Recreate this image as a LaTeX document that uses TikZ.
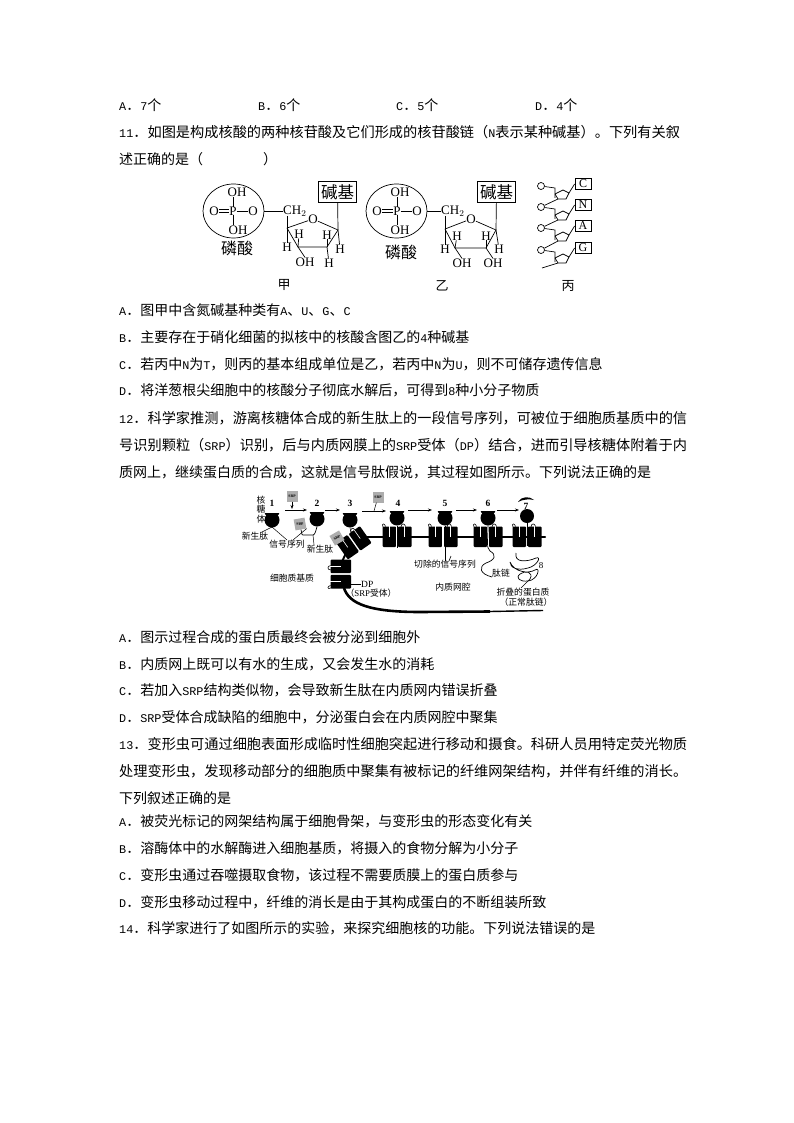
\documentclass[tikz,border=0pt]{standalone}
\usepackage{fontspec}
\usetikzlibrary{arrows.meta,shapes.geometric}
\setmainfont{Liberation Serif}
\newfontfamily\cjk{Noto Sans CJK SC}
\newfontfamily\ltmono{Liberation Mono}
\newcommand{\lt}[1]{{\ltmono\fontsize{11.8}{11.8}\selectfont #1}}
\tikzset{
 line/.style={inner sep=0pt,anchor=base west,font=\cjk\fontsize{14.2}{14.2}\selectfont},
 sline/.style={inner sep=0pt,anchor=base west,font=\cjk\fontsize{14}{14}\selectfont},
 lab/.style={inner sep=0pt,font=\fontsize{13}{13}\selectfont},
 clab/.style={inner sep=0pt,font=\cjk\fontsize{13}{13}\selectfont},
 plab/.style={inner sep=0pt,font=\cjk\fontsize{16}{16}\selectfont},
 slab/.style={inner sep=0pt,font=\cjk\fontsize{8.8}{8.8}\selectfont},
 dplab/.style={inner sep=0pt,font=\fontsize{9.5}{9.5}\selectfont},
 num/.style={inner sep=0pt,font=\bfseries\fontsize{9.5}{9.5}\selectfont},
 bond/.style={draw,line width=.7pt},
 box/.style={draw,line width=.8pt,inner sep=2.5pt,font=\cjk\fontsize{16.5}{16.5}\selectfont},
 sbox/.style={draw,line width=.8pt,minimum width=16pt,minimum height=10.5pt,inner sep=0pt,font=\fontsize{12}{12}\selectfont},
 srp/.style={fill=black!32,minimum width=11pt,minimum height=11pt,inner sep=0pt,font=\bfseries\fontsize{3.8}{3.8}\selectfont},
 flow/.style={draw,line width=.7pt,-{Stealth[length=4pt,width=3pt]}},
 circ/.style={draw,ellipse,line width=.7pt,inner sep=0pt},
 thin/.style={draw,line width=.5pt},
}
\newcommand{\ribo}[3]{% name, x, y
 \node[circle,fill=black,minimum size=15pt,inner sep=0pt] (#1) at (#2,#3) {};
 \fill[black] (#2-7.5,#3-8) arc (180:0:7.5 and 5.5) -- cycle;
 \draw[white,line width=.7pt] (#2-8,#3-7.6) -- (#2+8,#3-7.6);
}
\newcommand{\tmgroup}[3]{% x, y, rotation
 \begin{scope}[shift={(#1,#2)},rotate=#3]
  \fill[black,rounded corners=1pt] (-14.5,-10.5) rectangle (-0.8,10);
  \fill[black,rounded corners=1pt] (0.8,-10.5) rectangle (14.5,10);
  \draw[white,line width=.6pt] (-7.6,-11) -- (-7.6,0);
  \draw[white,line width=.6pt] (7.6,-11) -- (7.6,0);
  \draw[black,line width=.6pt] (-14,-10) .. controls (-16,-14) and (-12,-14) .. (-11.5,-10.5);
  \draw[black,line width=.6pt] (4,-10) .. controls (4,-14) and (8,-14) .. (8.5,-10.5);
 \end{scope}
}
\newcommand{\nuc}[3]{% name, y, base
 \node[circle,draw,line width=.7pt,minimum size=7pt,inner sep=0pt] (o#1) at (541,#2) {};
 \coordinate (a#1) at (555,#2+2);
 \coordinate (l#1) at (555,#2+8);
 \coordinate (t#1) at (563,#2+4);
 \coordinate (r#1) at (569,#2+7);
 \coordinate (m#1) at (566,#2+13);
 \coordinate (k#1) at (558,#2+13);
 \coordinate (z#1) at (555,#2+12);
 \draw[bond] (o#1) -- (a#1) -- (z#1);
 \draw[bond] (l#1) -- (t#1) -- (r#1) -- (m#1) -- (k#1) -- (l#1);
 \node[sbox] (s#1) at (583,#2-2) {#3};
 \draw[bond] (r#1) -- (s#1.west);
}
\begin{document}
\begin{tikzpicture}[x=1pt,y=-1pt]
\useasboundingbox (0,0) rectangle (794,1123);
\fill[white] (0,0) rectangle (794,1123);
% text
\node[sline] (t0a) at (119,111) {\lt{A}．\lt{7}个};
\node[sline] (t0b) at (258,111) {\lt{B}．\lt{6}个};
\node[sline] (t0c) at (396,111) {\lt{C}．\lt{5}个};
\node[sline] (t0d) at (535,111) {\lt{D}．\lt{4}个};
\node[line] (t1) at (119,138) {\lt{11}．如图是构成核酸的两种核苷酸及它们形成的核苷酸链（\lt{N}表示某种碱基）。下列有关叙};
\node[sline] (t2) at (119,165) {述正确的是（\hspace{60pt}）};
\node[sline] (t3) at (119,315) {\lt{A}．图甲中含氮碱基种类有\lt{A}、\lt{U}、\lt{G}、\lt{C}};
\node[sline] (t4) at (119,342) {\lt{B}．主要存在于硝化细菌的拟核中的核酸含图乙的\lt{4}种碱基};
\node[sline] (t5) at (119,369) {\lt{C}．若丙中\lt{N}为\lt{T}，则丙的基本组成单位是乙，若丙中\lt{N}为\lt{U}，则不可储存遗传信息};
\node[sline] (t6) at (119,395) {\lt{D}．将洋葱根尖细胞中的核酸分子彻底水解后，可得到\lt{8}种小分子物质};
\node[line] (t7) at (119,423) {\lt{12}．科学家推测，游离核糖体合成的新生肽上的一段信号序列，可被位于细胞质基质中的信};
\node[line] (t8) at (119,450) {号识别颗粒（\lt{SRP}）识别，后与内质网膜上的\lt{SRP}受体（\lt{DP}）结合，进而引导核糖体附着于内};
\node[sline] (t9) at (119,477) {质网上，继续蛋白质的合成，这就是信号肽假说，其过程如图所示。下列说法正确的是};
\node[sline] (t10) at (119,642) {\lt{A}．图示过程合成的蛋白质最终会被分泌到细胞外};
\node[sline] (t11) at (119,669) {\lt{B}．内质网上既可以有水的生成，又会发生水的消耗};
\node[sline] (t12) at (119,695) {\lt{C}．若加入\lt{SRP}结构类似物，会导致新生肽在内质网内错误折叠};
\node[sline] (t13) at (119,722) {\lt{D}．\lt{SRP}受体合成缺陷的细胞中，分泌蛋白会在内质网腔中聚集};
\node[line] (t14) at (119,749) {\lt{13}．变形虫可通过细胞表面形成临时性细胞突起进行移动和摄食。科研人员用特定荧光物质};
\node[line] (t15) at (119,776) {处理变形虫，发现移动部分的细胞质中聚集有被标记的纤维网架结构，并伴有纤维的消长。};
\node[sline] (t16) at (119,803) {下列叙述正确的是};
\node[sline] (t17) at (119,826) {\lt{A}．被荧光标记的网架结构属于细胞骨架，与变形虫的形态变化有关};
\node[sline] (t18) at (119,853) {\lt{B}．溶酶体中的水解酶进入细胞基质，将摄入的食物分解为小分子};
\node[sline] (t19) at (119,880) {\lt{C}．变形虫通过吞噬摄取食物，该过程不需要质膜上的蛋白质参与};
\node[sline] (t20) at (119,907) {\lt{D}．变形虫移动过程中，纤维的消长是由于其构成蛋白的不断组装所致};
\node[sline] (t21) at (119,933) {\lt{14}．科学家进行了如图所示的实验，来探究细胞核的功能。下列说法错误的是};
% figure 11 jia
\node[circ,minimum width=61pt,minimum height=54pt] (e1) at (233.5,211) {};
\node[lab] (oh1) at (237,192) {OH};
\node[lab] (o1) at (214,211) {O};
\node[lab] (p1) at (233,211) {P};
\node[lab] (o2) at (253,211) {O};
\node[lab] (oh2) at (238,230) {OH};
\draw[bond] (p1.north) -- (233,197);
\draw[bond] (p1.south) -- (233,225);
\draw[bond] (p1) -- (o2);
\draw[bond] ([yshift=-1.3pt]o1.east) -- ([yshift=-1.3pt]p1.west);
\draw[bond] ([yshift=1.3pt]o1.east) -- ([yshift=1.3pt]p1.west);
\node[plab] (ps1) at (237,248) {磷酸};
\node[lab,anchor=west] (ch1) at (283,211) {CH$_2$};
\draw[bond] (e1.east) -- (ch1.west);
\node[lab] (ro1) at (313,219) {O};
\coordinate (r1a) at (287,228); \coordinate (r1b) at (298,247); \coordinate (r1c) at (327,247); \coordinate (r1d) at (338,230);
\draw[bond] (r1a) -- (r1b) -- (r1c) -- (r1d) -- (ro1) -- (r1a);
\draw[bond] (287,216) -- (r1a);
\node[box] (bs1) at (337.5,192) {碱基};
\draw[bond] (bs1) -- (r1d);
\node[lab] (h1) at (287,247) {H}; \node[lab] (h2) at (299,234) {H};
\node[lab] (h3) at (327,235) {H}; \node[lab] (h4) at (340,249) {H};
\node[lab] (oh3) at (305,262) {OH}; \node[lab] (h5) at (329,263) {H};
\draw[bond] (r1a)--(h1); \draw[bond] (r1b)--(h2); \draw[bond] (r1b)--(oh3.north); \draw[bond] (r1c)--(h3); \draw[bond] (r1c)--(h5); \draw[bond] (r1d)--(h4);
\node[clab] (ja) at (284,285) {甲};
% yi
\node[circ,minimum width=61pt,minimum height=54pt] (e2) at (396.5,211) {};
\node[lab] (yh1) at (400,192) {OH};
\node[lab] (yo1) at (377,211) {O};
\node[lab] (yp) at (397,211) {P};
\node[lab] (yo2) at (417,211) {O};
\node[lab] (yh2) at (400,230) {OH};
\draw[bond] (yp.north) -- (397,197);
\draw[bond] (yp.south) -- (397,225);
\draw[bond] (yp) -- (yo2);
\draw[bond] ([yshift=-1.3pt]yo1.east) -- ([yshift=-1.3pt]yp.west);
\draw[bond] ([yshift=1.3pt]yo1.east) -- ([yshift=1.3pt]yp.west);
\node[plab] (ps2) at (401,252) {磷酸};
\node[lab,anchor=west] (ch2) at (441,211) {CH$_2$};
\draw[bond] (e2.east) -- (ch2.west);
\node[lab] (ro2) at (471,219) {O};
\coordinate (r2a) at (445,229); \coordinate (r2b) at (455,248); \coordinate (r2c) at (486,248); \coordinate (r2d) at (496,230);
\draw[bond] (r2a) -- (r2b) -- (r2c) -- (r2d) -- (ro2) -- (r2a);
\draw[bond] (445,216) -- (r2a);
\node[box] (bs2) at (496.5,192) {碱基};
\draw[bond] (bs2) -- (r2d);
\node[lab] (g1) at (445,249) {H}; \node[lab] (g2) at (457,236) {H};
\node[lab] (g3) at (486,236) {H}; \node[lab] (g4) at (499,249) {H};
\node[lab] (oh4) at (462,263) {OH}; \node[lab] (oh5) at (493,263) {OH};
\draw[bond] (r2a)--(g1); \draw[bond] (r2b)--(g2); \draw[bond] (r2b)--(oh4.north); \draw[bond] (r2c)--(g3); \draw[bond] (r2c)--(oh5.north); \draw[bond] (r2d)--(g4);
\node[clab] (yi) at (442,286) {乙};
% bing
\nuc{c}{186}{C}
\nuc{n}{207}{N}
\nuc{a}{228}{A}
\nuc{g}{250}{G}
\coordinate (chainend) at (542,268);
\draw[bond] (kc) -- (on);
\draw[bond] (kn) -- (oa);
\draw[bond] (ka) -- (og);
\draw[bond] (kg) -- (chainend);
\node[clab] (bi) at (568,286) {丙};
% figure 12: membranes
\draw[line width=2pt,line cap=round] (358,537) -- (545,537);
\draw[line width=2pt] (346,553) -- (341,564);
\draw[line width=2.6pt] (344,588) .. controls (349,604) and (370,612) .. (420,612) -- (490,611.5);
\draw[line width=1.4pt] (490,611.5) -- (543,610.5);
% ribosomes
\ribo{r1}{272}{520}
\ribo{r2}{317}{519}
\ribo{r3}{350}{520}
\ribo{r4}{397}{518}
\ribo{r5}{445}{518}
\ribo{r6}{488}{518}
\node[circle,fill=black,minimum size=14pt,inner sep=0pt] (r7) at (527,516) {};
\fill[black] (518,502) .. controls (521,496) and (530,496) .. (534,500) .. controls (530,499) and (523,499) .. (518,502) -- cycle;
% translocon groups
\tmgroup{397}{537}{0}
\tmgroup{443}{537}{0}
\tmgroup{488}{537}{0}
\tmgroup{527}{537}{0}
\tmgroup{354}{543}{35}
\tmgroup{341}{574}{90}
\draw[white,line width=1.2pt] (397,526) -- (397,549);
\draw[white,line width=1.4pt] (443,526) -- (443,552);
\draw[white,line width=1.4pt] (488,526) -- (488,548);
\draw[white,line width=1pt] (527,526) -- (527,548);
% numbers
\node[num] (n1) at (272,503) {1};
\node[num] (n2) at (317,503) {2};
\node[num] (n3) at (350,503) {3};
\node[num] (n4) at (398,503) {4};
\node[num] (n5) at (445,503) {5};
\node[num] (n6) at (488,503) {6};
\node[num] (n7) at (526,506) {7};
\node[num,font=\fontsize{9}{9}\selectfont] (n8) at (541,566) {8};
% flows
\coordinate (f1a) at (285,510); \coordinate (f1b) at (307,510);
\coordinate (f2a) at (325,510); \coordinate (f2b) at (340,510);
\coordinate (f3a) at (362,511); \coordinate (f3b) at (386,511);
\coordinate (f4a) at (408,510); \coordinate (f4b) at (432,510);
\coordinate (f5a) at (456,510); \coordinate (f5b) at (477,510);
\coordinate (f6a) at (497,510); \coordinate (f6b) at (519,510);
\draw[flow] (f1a) -- (f1b);
\draw[flow] (f2a) -- (f2b);
\draw[flow] (f3a) -- (f3b);
\draw[flow] (f4a) -- (f4b);
\draw[flow] (f5a) -- (f5b);
\draw[flow] (f6a) -- (f6b);
% SRP
\node[srp] (s1) at (292,496) {SRP};
\node[srp] (s4) at (378,497) {SRP};
\node[srp,rotate=10] (s2) at (300,524) {SRP};
\node[srp,rotate=30] (s3) at (337,538) {SRP};
\coordinate (s1f) at (292,509);
\coordinate (s4f) at (374,511);
\draw[flow] (s1) -- (s1f);
\draw[thin] (s4) -- (s4f);
% labels
\node[slab] (he) at (261,500) {核};
\node[slab] (tang) at (261,509) {糖};
\node[slab] (ti) at (261,519) {体};
\node[slab] (xs1) at (255,536) {新生肽};
\node[slab] (xh) at (287,544) {信号序列};
\node[slab] (xs2) at (320,549) {新生肽};
\node[slab] (jz) at (292,578) {细胞质基质};
\node[dplab,anchor=west] (dp) at (361,584) {DP};
\node[slab] (dps) at (371,593) {（\fontspec{Liberation Serif}SRP\cjk 受体）};
\node[slab] (qc) at (445,564) {切除的信号序列};
\node[slab] (nz) at (453,587) {内质网腔};
\node[slab] (tl) at (501,573) {肽链};
\node[slab] (zd) at (523,592) {折叠的蛋白质};
\node[slab] (zc) at (526,602) {（正常肽链）};
% peptide lines
\coordinate (p1j) at (272,527);
\draw[thin] (r1.south) -- (p1j) -- (262,532);
\draw[thin] (p1j) -- (287,540);
\coordinate (p2a) at (313,535);
\coordinate (p2b) at (303,535);
\draw[line width=.7pt] (r2.south) .. controls (316,530) and (315,535) .. (p2a) -- (p2b) .. controls (301,535) and (302,531) .. (s2.south);
\draw[thin] (293,540) -- (s2.south east);
\draw[thin] (314,545) -- (p2a);
\draw[thin] (r3.south) -- (352,538);
\draw[thin] (dp.west) -- (350,584);
\draw[line width=.6pt] (r4.south) -- (397,548);
\draw[line width=.6pt] (r5.south) -- (445,561);
\draw[line width=.6pt] (451,556) -- (449,561);
\draw[line width=.7pt] (r6.south) .. controls (488,540) and (486,548) .. (490,551) .. controls (497,555) and (495,560) .. (486,563) .. controls (478,567) and (480,574) .. (492,577);
\draw[line width=.7pt] (r7.south) -- (527,546);
% folded protein
\draw[line width=.7pt] (516,553) .. controls (514,563) and (527,562) .. (536,558) .. controls (542,556) and (537,566) .. (528,568) .. controls (518,571) and (510,568) .. (510,562) .. controls (514,572) and (528,574) .. (535,570) .. controls (541,566) and (538,580) .. (528,581) .. controls (520,582) and (515,578) .. (520,574) .. controls (525,570) and (534,572) .. (530,579);
\draw[thin] (521,588) -- (530,579);
\end{tikzpicture}
\end{document}
